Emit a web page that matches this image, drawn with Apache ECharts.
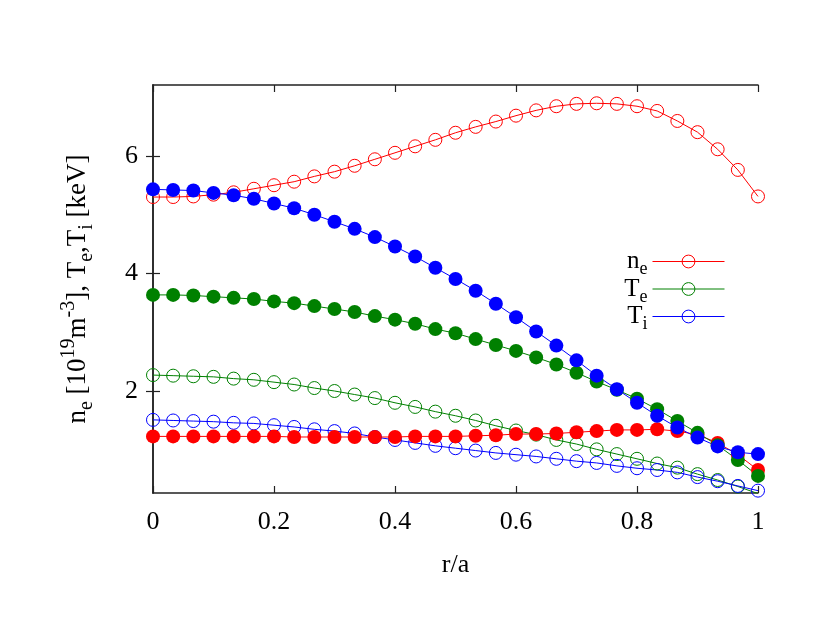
<!DOCTYPE html>
<html>
<head>
<meta charset="utf-8">
<script src="https://cdn.jsdelivr.net/npm/echarts@6/dist/echarts.min.js"></script>
<style>
  html, body { margin: 0; padding: 0; background: #fff; }
  #chart { width: 830px; height: 642px; }
</style>
</head>
<body>
<div id="chart"></div>
<script>
// r/a grid (31 radial points)
const rA = [0, 0.0333, 0.0667, 0.1, 0.1333, 0.1667, 0.2, 0.2333, 0.2667, 0.3, 0.3333,
  0.3667, 0.4, 0.4333, 0.4667, 0.5, 0.5333, 0.5667, 0.6, 0.6333, 0.6667,
  0.7, 0.7333, 0.7667, 0.8, 0.8333, 0.8667, 0.9, 0.9333, 0.9667, 1]

// open symbols
const neOpen = [5.30, 5.30, 5.31, 5.34, 5.38, 5.44, 5.50, 5.56, 5.65, 5.73, 5.83,
  5.94, 6.05, 6.16, 6.27, 6.39, 6.49, 6.58, 6.68, 6.77, 6.84,
  6.88, 6.89, 6.88, 6.84, 6.76, 6.59, 6.40, 6.11, 5.76, 5.31]
const teOpen = [2.28, 2.27, 2.26, 2.25, 2.22, 2.20, 2.16, 2.12, 2.06, 2.01, 1.95,
  1.89, 1.81, 1.74, 1.66, 1.59, 1.51, 1.42, 1.34, 1.27, 1.18,
  1.11, 1.02, 0.94, 0.86, 0.78, 0.71, 0.60, 0.50, 0.39, 0.27]
const tiOpen = [1.52, 1.51, 1.50, 1.49, 1.47, 1.46, 1.43, 1.40, 1.36, 1.33, 1.29,
  1.23, 1.18, 1.13, 1.08, 1.04, 1.00, 0.96, 0.93, 0.90, 0.86,
  0.82, 0.79, 0.74, 0.70, 0.67, 0.63, 0.55, 0.48, 0.40, 0.32]

// filled symbols
const neFill = [1.24, 1.24, 1.24, 1.24, 1.24, 1.24, 1.24, 1.23, 1.23, 1.23, 1.23,
  1.23, 1.23, 1.24, 1.24, 1.24, 1.25, 1.26, 1.28, 1.28, 1.29,
  1.31, 1.33, 1.35, 1.35, 1.36, 1.33, 1.27, 1.13, 0.93, 0.67]
const teFill = [3.64, 3.64, 3.63, 3.61, 3.59, 3.57, 3.53, 3.50, 3.45, 3.40, 3.35,
  3.28, 3.22, 3.15, 3.06, 2.99, 2.89, 2.79, 2.69, 2.58, 2.46,
  2.32, 2.17, 2.03, 1.88, 1.70, 1.50, 1.30, 1.09, 0.84, 0.57]
const tiFill = [5.43, 5.42, 5.41, 5.37, 5.33, 5.27, 5.19, 5.11, 5.00, 4.88, 4.76,
  4.62, 4.46, 4.29, 4.10, 3.91, 3.71, 3.49, 3.26, 3.02, 2.78,
  2.53, 2.27, 2.04, 1.81, 1.59, 1.39, 1.22, 1.07, 0.97, 0.94]

const yTicks = [2, 4, 6]

const FONT = 'Liberation Serif'
const richFor = (base, small, lh) => ({
  b: { fontFamily: FONT, fontSize: base, color: '#000', lineHeight: lh, verticalAlign: 'middle' },
  sub: { fontFamily: FONT, fontSize: small, color: '#000', lineHeight: small, verticalAlign: 'bottom' },
  sup: { fontFamily: FONT, fontSize: small, color: '#000', lineHeight: small, verticalAlign: 'top' }
})

const legendNames = ['n_e', 'T_e', 'T_i']
const legendText = {
  'n_e': '{b|n}{sub|e}',
  'T_e': '{b|T}{sub|e}',
  'T_i': '{b|T}{sub|i}'
}
const LEGEND_LH = 34

const pairs = ys => ys.map((y, i) => [rA[i], y])

const openSeries = (name, ys, color) => ({
  name, type: 'line', data: pairs(ys),
  symbol: 'circle', symbolSize: 13, showSymbol: true,
  lineStyle: { color, width: 1 },
  itemStyle: { color: 'transparent', borderColor: color, borderWidth: 1 },
  emphasis: { disabled: true }, silent: true
})
const fillSeries = (name, ys, color) => ({
  name, type: 'line', data: pairs(ys),
  symbol: 'circle', symbolSize: 14, showSymbol: true,
  lineStyle: { color, width: 1 },
  itemStyle: { color, borderWidth: 0 },
  emphasis: { disabled: true }, silent: true
})

// one legend box per row so the rows sit exactly where the reference has them
const legendRows = [266, 293.5, 321]
const legends = legendNames.map((n, i) => ({
  data: [n],
  orient: 'vertical',
  right: 105, top: legendRows[i] - LEGEND_LH / 2, padding: 0,
  align: 'right',
  itemWidth: 72, itemHeight: 16,
  selectedMode: false,
  itemStyle: { borderWidth: 1 },
  lineStyle: { width: 1 },
  formatter: k => legendText[k],
  textStyle: { rich: richFor(25, 18, LEGEND_LH), color: '#000' }
}))

const axisLine = { show: true, lineStyle: { color: '#222', width: 1.5 } }
const tick = { show: true, inside: true, length: 7, lineStyle: { color: '#222', width: 1.2 } }

const chart = echarts.init(document.getElementById('chart'), null, { renderer: 'canvas' })
chart.setOption({
  animation: false,
  backgroundColor: '#fff',
  grid: { left: 153, top: 85, right: 72, bottom: 149, containLabel: false },
  legend: legends,
  xAxis: [{
    type: 'value', min: 0, max: 1, interval: 0.2,
    position: 'bottom',
    name: 'r/a', nameLocation: 'middle', nameGap: 59,
    nameTextStyle: { fontFamily: FONT, fontSize: 26, color: '#000' },
    axisLine, axisTick: tick, splitLine: { show: false },
    axisLabel: { fontFamily: FONT, fontSize: 26, color: '#000', margin: 16 }
  }, {
    type: 'value', min: 0, max: 1, interval: 0.2,
    position: 'top',
    axisLine, axisTick: tick, splitLine: { show: false },
    axisLabel: { show: false }
  }],
  yAxis: [{
    type: 'value', min: 0.28, max: 7.2,
    position: 'left',
    name: '{b|n}{sub|e}{b| [10}{sup|19}{b|m}{sup|-3}{b|], T}{sub|e}{b|,T}{sub|i}{b| [keV]}',
    nameLocation: 'middle', nameRotate: 90, nameGap: 56,
    nameTextStyle: { rich: richFor(27, 20, 38) },
    axisLine,
    axisTick: Object.assign({ customValues: yTicks }, tick),
    splitLine: { show: false },
    axisLabel: { customValues: yTicks, fontFamily: FONT, fontSize: 26, color: '#000', margin: 15 }
  }, {
    type: 'value', min: 0.28, max: 7.2,
    position: 'right',
    axisLine,
    axisTick: Object.assign({ customValues: yTicks }, tick),
    splitLine: { show: false },
    axisLabel: { show: false }
  }],
  series: [
    openSeries('n_e', neOpen, '#ff0000'),
    openSeries('T_e', teOpen, '#008000'),
    openSeries('T_i', tiOpen, '#0000ff'),
    fillSeries('n_e filled', neFill, '#ff0000'),
    fillSeries('T_e filled', teFill, '#008000'),
    fillSeries('T_i filled', tiFill, '#0000ff')
  ]
})
</script>
</body>
</html>
